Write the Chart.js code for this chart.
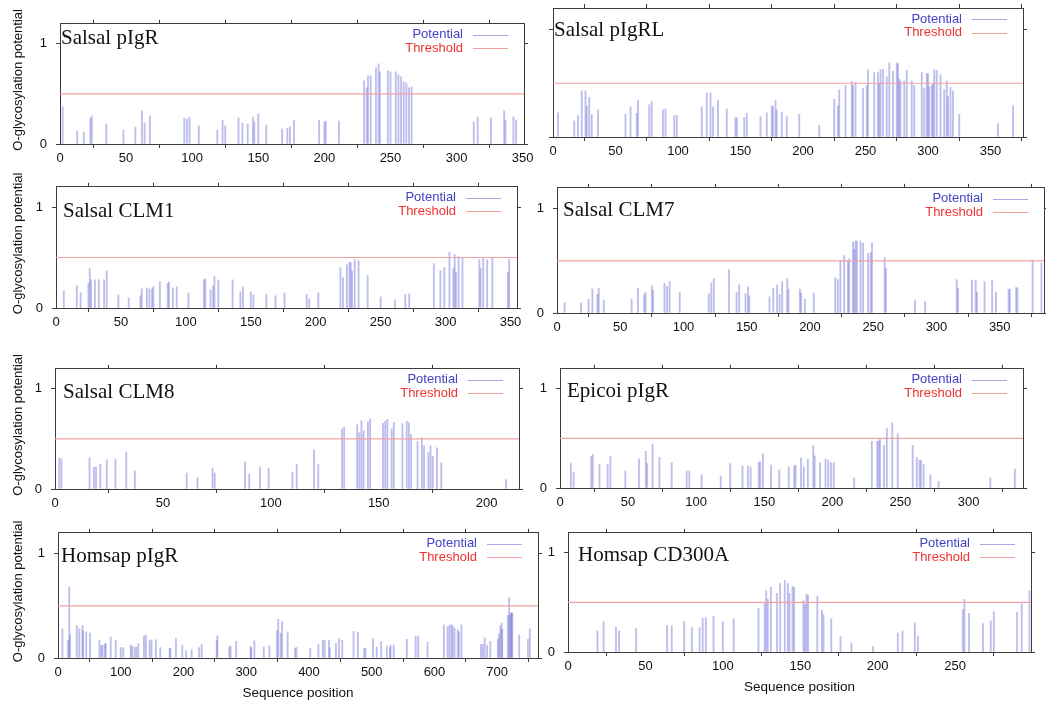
<!DOCTYPE html>
<html>
<head>
<meta charset="utf-8">
<script src="https://cdn.jsdelivr.net/npm/chart.js@4.4.1/dist/chart.umd.min.js"></script>
<style>
  html, body { margin: 0; padding: 0; background: #fff; }
  body { width: 1046px; height: 703px; position: relative; overflow: hidden; }
  canvas { position: absolute; }
</style>
</head>
<body>
<script>
    // ==========================================
    // Predicted O-glycosylation sites: [sequence position, potential]
    // ==========================================
    const salsalPigR = [
        [2,.37],[13,.13],[18,.12],[23,.26],[24,.28],[35,.20],[48,.14],[57,.17],[62,.33],[64,.21],
        [68,.28],[94,.26],[96,.25],[98,.27],[105,.18],[119,.14],[123,.24],[125,.18],[135,.26],[138,.21],
        [142,.20],[146,.27],[147,.22],[150,.30],[156,.19],[168,.15],[172,.16],[174,.17],[177,.24],[196,.24],
        [200,.22],[201,.23],[211,.23],[230,.63],[232,.56],[233,.68],[235,.68],[239,.76],[241,.80],[242,.72],
        [248,.73],[250,.72],[254,.72],[256,.69],[258,.67],[260,.62],[262,.61],[264,.56],[266,.57],[313,.22],
        [316,.27],[326,.26],[336,.33],[337,.24],[343,.27],[345,.24]
    ];
    const salsalPigRL = [
        [4,.225],[17,.15],[20,.20],[23,.43],[26,.43],[27,.29],[29,.37],[31,.21],[36,.25],[58,.21],
        [62,.28],[67,.22],[68,.34],[77,.30],[79,.33],[88,.25],[90,.26],[97,.20],[99,.20],[119,.28],
        [123,.41],[126,.41],[128,.28],[132,.34],[139,.26],[146,.18],[147,.18],[153,.18],[155,.22],[166,.19],
        [171,.225],[175,.29],[176,.28],[178,.34],[179,.25],[183,.23],[187,.19],[197,.21],[213,.11],[225,.35],
        [228,.29],[229,.44],[234,.48],[239,.52],[240,.48],[242,.51],[248,.45],[251,.48],[252,.625],[257,.60],
        [260,.60],[261,.50],[262,.625],[264,.63],[267,.56],[269,.69],[272,.61],[275,.69],[276,.68],[277,.54],
        [278,.52],[281,.52],[283,.62],[287,.52],[289,.48],[295,.60],[297,.45],[299,.59],[300,.59],[301,.47],
        [303,.48],[304,.49],[305,.625],[307,.62],[310,.58],[313,.44],[315,.52],[316,.375],[318,.46],[320,.43],
        [325,.21],[356,.125],[368,.29]
    ];
    const salsalClm1 = [
        [6,.17],[16,.22],[19,.15],[25,.245],[26,.39],[27,.28],[30,.28],[33,.28],[37,.28],[39,.365],
        [48,.13],[56,.10],[65,.12],[66,.19],[70,.20],[72,.19],[74,.19],[75,.21],[80,.26],[86,.245],
        [87,.26],[90,.20],[93,.21],[102,.15],[114,.28],[115,.29],[119,.18],[121,.22],[122,.31],[125,.28],
        [136,.28],[142,.16],[144,.21],[150,.16],[152,.13],[162,.135],[169,.12],[176,.15],[193,.135],[195,.09],
        [202,.15],[219,.40],[221,.30],[224,.43],[226,.45],[227,.45],[228,.365],[230,.48],[233,.47],[240,.32],
        [250,.11],[261,.08],[269,.135],[272,.14],[291,.44],[296,.37],[299,.40],[303,.55],[306,.39],[307,.53],
        [308,.355],[310,.51],[313,.50],[326,.48],[327,.39],[329,.50],[332,.48],[336,.50],[348,.355],[349,.48]
    ];
    const salsalClm7 = [
        [6,.10],[19,.095],[25,.13],[28,.23],[32,.18],[33,.24],[37,.125],[59,.13],[64,.24],[69,.18],
        [70,.195],[75,.26],[76,.22],[85,.285],[87,.255],[89,.30],[97,.195],[120,.185],[122,.29],[124,.33],
        [136,.415],[142,.195],[144,.27],[149,.185],[151,.25],[152,.165],[168,.155],[171,.24],[174,.27],[176,.18],
        [178,.30],[182,.33],[183,.23],[192,.23],[193,.19],[196,.13],[203,.19],[220,.34],[222,.32],[224,.50],
        [227,.55],[230,.50],[231,.52],[234,.68],[235,.61],[236,.69],[237,.69],[240,.69],[242,.67],[246,.57],
        [248,.58],[249,.67],[259,.53],[260,.43],[283,.12],[291,.11],[316,.32],[317,.24],[328,.315],[331,.315],
        [332,.20],[338,.30],[344,.315],[347,.20],[357,.23],[358,.23],[363,.245],[364,.24],[376,.51],[383,.48]
    ];
    const salsalClm8 = [
        [2,.31],[3,.30],[16,.31],[18,.22],[19,.22],[21,.25],[24,.29],[28,.30],[33,.365],[37,.18],
        [61,.16],[66,.11],[73,.21],[74,.16],[88,.27],[90,.15],[95,.22],[99,.21],[110,.17],[112,.25],
        [120,.39],[122,.245],[133,.60],[134,.62],[140,.64],[141,.56],[142,.68],[143,.58],[145,.67],[146,.70],
        [152,.655],[153,.675],[154,.695],[156,.60],[157,.665],[161,.65],[163,.675],[164,.66],[165,.545],[168,.475],
        [170,.51],[171,.43],[173,.365],[174,.43],[175,.325],[177,.41],[179,.26],[209,.095]
    ];
    const epicoiPigR = [
        [8,.245],[10,.16],[23,.32],[24,.34],[29,.235],[35,.235],[37,.32],[48,.17],[58,.29],[63,.37],
        [64,.245],[68,.44],[73,.31],[82,.255],[93,.17],[95,.17],[104,.135],[118,.12],[125,.245],[134,.22],
        [138,.22],[140,.21],[146,.26],[147,.26],[149,.345],[155,.23],[161,.18],[168,.21],[172,.22],[173,.23],
        [177,.30],[179,.215],[182,.29],[186,.425],[187,.325],[191,.255],[195,.29],[197,.28],[199,.255],[201,.255],
        [216,.10],[229,.47],[233,.47],[234,.475],[235,.50],[238,.43],[240,.60],[244,.655],[248,.545],[259,.43],
        [262,.31],[264,.28],[265,.28],[267,.235],[272,.135],[278,.066],[316,.10],[334,.19]
    ];
    const homsapPigR = [
        [7,.28],[16,.17],[18,.68],[19,.22],[30,.31],[34,.28],[39,.31],[40,.26],[45,.25],[51,.24],
        [66,.17],[69,.12],[71,.125],[75,.135],[76,.135],[84,.20],[92,.17],[100,.10],[104,.10],[116,.125],
        [118,.11],[122,.105],[125,.105],[128,.135],[137,.21],[140,.22],[146,.165],[149,.175],[156,.175],[163,.10],
        [178,.095],[179,.09],[188,.185],[198,.125],[204,.07],[213,.08],[225,.10],[229,.13],[253,.17],[254,.215],
        [273,.11],[275,.115],[284,.16],[307,.11],[308,.10],[313,.165],[328,.105],[337,.12],[349,.26],[351,.37],
        [355,.24],[357,.35],[366,.25],[378,.095],[380,.10],[402,.09],[415,.13],[422,.17],[425,.17],[432,.17],
        [433,.10],[443,.14],[448,.185],[453,.17],[471,.255],[478,.245],[488,.09],[490,.095],[502,.185],[508,.105],
        [515,.155],[524,.115],[529,.10],[530,.125],[535,.125],[556,.18],[570,.21],[574,.21],[589,.15],[615,.315],
        [621,.30],[624,.31],[627,.32],[629,.305],[632,.285],[637,.27],[639,.25],[643,.315],[674,.13],[677,.13],
        [680,.19],[684,.125],[689,.16],[701,.18],[703,.23],[705,.305],[707,.335],[708,.275],[717,.41],[719,.58],
        [720,.41],[722,.43],[723,.43],[724,.43],[735,.22],[749,.18],[752,.28]
    ];
    const homsapCd300a = [
        [19,.21],[23,.30],[31,.25],[33,.21],[44,.235],[64,.265],[67,.265],[75,.31],[80,.245],[85,.245],
        [87,.34],[89,.345],[94,.36],[100,.30],[107,.335],[123,.44],[127,.49],[128,.615],[129,.53],[131,.65],
        [135,.59],[137,.69],[140,.72],[142,.69],[143,.59],[145,.66],[146,.65],[152,.515],[153,.48],[154,.58],
        [155,.57],[161,.56],[164,.42],[165,.375],[170,.335],[176,.155],[183,.09],[197,.055],[213,.19],[216,.21],
        [224,.29],[226,.16],[255,.43],[256,.53],[259,.39],[268,.285],[273,.315],[275,.405],[290,.40],[293,.485],
        [298,.615]
    ];

    const THRESHOLD = 0.5;
    const Y_MAX = 1.2;
    const Y_TICKS = [0, 1];
    const ticks350 = [0, 50, 100, 150, 200, 250, 300, 350];
    const ticks200 = [0, 50, 100, 150, 200];
    const ticks300 = [0, 50, 100, 150, 200, 250, 300];
    const ticks250 = [0, 50, 100, 150, 200, 250];
    const ticks700 = [0, 100, 200, 300, 400, 500, 600, 700];

    // ==========================================
    // Estilos
    // ==========================================
    const SANS = '"Liberation Sans", Arial, Helvetica, sans-serif';
    const SERIF = '"Liberation Serif", "Times New Roman", serif';
    const AXIS = '#3c3c3c';
    const BAR_COLOR = 'rgba(110, 110, 215, 0.45)';
    const KEY_BAR = 'rgba(110, 110, 215, 0.6)';
    const LINE_COLOR = '#f3a2a2';
    const PAD_T = 8, PAD_R = 22, PAD_B = 48;

    // one entry per panel: plot box [left, top, right, bottom] on the page, canvas left edge
    const panels = [
        { name: 'Salsal pIgR',   data: salsalPigR,   xMax: 351, ticks: ticks350, box: [60, 15, 524, 144],   col: 0,   yLabels: true,  nameDx: 1,  nameDy: 20.5 },
        { name: 'Salsal pIgRL',  data: salsalPigRL,  xMax: 376, ticks: ticks350, box: [553, 8, 1023, 137],  col: 530, yLabels: false, nameDx: 1,  nameDy: 27.5 },
        { name: 'Salsal CLM1',   data: salsalClm1,   xMax: 355, ticks: ticks350, box: [56, 178, 517, 308],  col: 0,   yLabels: true,  nameDx: 7,  nameDy: 30 },
        { name: 'Salsal CLM7',   data: salsalClm7,   xMax: 385, ticks: ticks350, box: [557, 179, 1044, 313],col: 530, yLabels: true,  nameDx: 6,  nameDy: 28.3 },
        { name: 'Salsal CLM8',   data: salsalClm8,   xMax: 215, ticks: ticks200, box: [55, 360, 519, 489],  col: 0,   yLabels: true,  nameDx: 8,  nameDy: 29 },
        { name: 'Epicoi pIgR',   data: epicoiPigR,   xMax: 340, ticks: ticks300, box: [560, 360, 1023, 488],col: 530, yLabels: true,  nameDx: 7,  nameDy: 28.3 },
        { name: 'Homsap pIgR',   data: homsapPigR,   xMax: 765, ticks: ticks700, box: [58, 524, 538, 658],  col: 0,   yLabels: true,  nameDx: 3,  nameDy: 29.3, xTitle: true },
        { name: 'Homsap CD300A', data: homsapCd300a, xMax: 299, ticks: ticks250, box: [568, 524, 1031, 652],col: 530, yLabels: true,  nameDx: 10, nameDy: 27.7, xTitle: true }
    ];

    // panel name, key, axis titles
    const panelDecor = {
        id: 'panelDecor',
        afterDraw(chart, args, o) {
            const { ctx, chartArea: a } = chart;
            ctx.save();

            ctx.fillStyle = '#111';
            ctx.font = '21px ' + SERIF;
            ctx.textAlign = 'left';
            ctx.textBaseline = 'alphabetic';
            ctx.fillText(o.name, a.left + o.nameDx, a.top + o.nameDy);

            // Legenda
            ctx.font = '13px ' + SANS;
            ctx.textAlign = 'right';
            ctx.textBaseline = 'middle';
            const keys = [
                { label: 'Potential', text: '#4242c4', line: KEY_BAR, dy: 11 },
                { label: 'Threshold', text: '#f03232', line: LINE_COLOR, dy: 24.5 }
            ];
            keys.forEach(k => {
                const y = a.top + k.dy;
                ctx.fillStyle = k.text;
                ctx.fillText(k.label, a.right - 61, y);
                ctx.strokeStyle = k.line;
                ctx.lineWidth = 1;
                ctx.beginPath();
                ctx.moveTo(a.right - 51, Math.round(y) + 0.5);
                ctx.lineTo(a.right - 16, Math.round(y) + 0.5);
                ctx.stroke();
            });

            ctx.fillStyle = '#111';
            if (o.yTitle) {
                ctx.save();
                ctx.translate(18.5, (a.top + a.bottom) / 2 - 4);
                ctx.rotate(-Math.PI / 2);
                ctx.textAlign = 'center';
                ctx.font = '13px ' + SANS;
                ctx.fillText('O-glycosylation potential', 0, 0);
                ctx.restore();
            }
            if (o.xTitle) {
                ctx.textAlign = 'center';
                ctx.font = '13.5px ' + SANS;
                ctx.fillText('Sequence position', (a.left + a.right) / 2, a.bottom + 35.5);
            }
            ctx.restore();
        }
    };

    function axisX(p, position, showLabels, size) {
        return {
            type: 'linear', position: position, min: 0, max: p.xMax, offset: false,
            afterBuildTicks: s => { s.ticks = p.ticks.map(v => ({ value: v })); },
            afterFit: s => { s.height = size; },
            grid: { drawOnChartArea: false, drawTicks: true, tickLength: 4, color: AXIS, tickColor: AXIS },
            border: { display: true, color: AXIS, width: 1 },
            ticks: { display: showLabels, padding: 3, color: '#111', maxRotation: 0, autoSkip: false,
                     font: { family: SANS, size: 13 } }
        };
    }

    function axisY(position, showLabels, size) {
        return {
            type: 'linear', position: position, min: 0, max: Y_MAX,
            afterBuildTicks: s => { s.ticks = Y_TICKS.map(v => ({ value: v })); },
            afterFit: s => { s.width = size; },
            grid: { drawOnChartArea: false, drawTicks: true, tickLength: 4, color: AXIS, tickColor: AXIS },
            border: { display: true, color: AXIS, width: 1 },
            ticks: { display: showLabels, padding: 9, color: '#111', font: { family: SANS, size: 13 } }
        };
    }

    function renderPanel(p) {
        const [l, t, r, b] = p.box;
        const padL = l - p.col;
        const cv = document.createElement('canvas');
        cv.width = (r - l) + padL + PAD_R;
        cv.height = (b - t) + PAD_T + PAD_B;
        cv.style.left = p.col + 'px';
        cv.style.top = (t - PAD_T) + 'px';
        document.body.appendChild(cv);

        new Chart(cv.getContext('2d'), {
            type: 'bar',
            data: {
                datasets: [
                    {
                        type: 'line',
                        data: [{ x: 0, y: THRESHOLD }, { x: p.xMax, y: THRESHOLD }],
                        borderColor: LINE_COLOR,
                        borderWidth: 1.2,
                        pointRadius: 0,
                        xAxisID: 'x', yAxisID: 'y',
                        order: 1
                    },
                    {
                        data: p.data.map(([x, y]) => ({ x: x, y: y })),
                        backgroundColor: BAR_COLOR,
                        borderWidth: 0,
                        barThickness: 1.2,
                        grouped: false,
                        xAxisID: 'x', yAxisID: 'y',
                        order: 2
                    }
                ]
            },
            options: {
                responsive: false,
                animation: false,
                devicePixelRatio: 1,
                layout: { padding: 0 },
                plugins: {
                    legend: { display: false },
                    tooltip: { enabled: false },
                    panelDecor: {
                        name: p.name, nameDx: p.nameDx, nameDy: p.nameDy,
                        yTitle: p.col === 0, xTitle: !!p.xTitle
                    }
                },
                scales: {
                    x: axisX(p, 'bottom', true, PAD_B),
                    xTop: axisX(p, 'top', false, PAD_T),
                    y: axisY('left', p.yLabels, padL),
                    yRight: axisY('right', false, PAD_R)
                }
            },
            plugins: [panelDecor]
        });
    }

    panels.forEach(renderPanel);
</script>
</body>
</html>
